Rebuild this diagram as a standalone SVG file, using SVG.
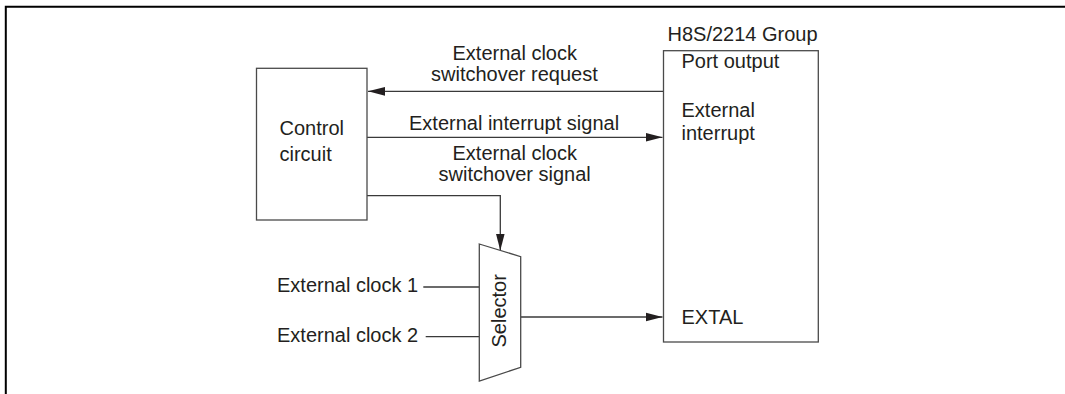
<svg xmlns="http://www.w3.org/2000/svg" width="1065" height="394" viewBox="0 0 1065 394">
<style>
text{font-family:"Liberation Sans",Arial,sans-serif;font-size:20px;fill:#231f20}
.b{fill:#fff;stroke:#4a4a4a;stroke-width:1.3}
.c{fill:none;stroke:#3a3a3a;stroke-width:1.3}
</style>
<defs><marker id="a" markerUnits="userSpaceOnUse" markerWidth="17" markerHeight="10" refX="17" refY="5" orient="auto"><path d="M0 .6L17 5L0 9.400z" fill="#231f20"/></marker></defs>
<rect width="1065" height="394" fill="#fff"/>
<path d="M5.800 394V6.700H1065" fill="none" stroke="#000" stroke-width="2"/>
<g id="connectors">
<path class="c" d="M663.500 91.300H368" marker-end="url(#a)"/>
<path class="c" d="M367 137.300H662.500" marker-end="url(#a)"/>
<path class="c" d="M367 195.700H500.300V250.500" marker-end="url(#a)"/>
<path class="c" d="M423.300 287H479.300"/>
<path class="c" d="M425.700 336.700H479.300"/>
<path class="c" d="M520.700 317H662.500" marker-end="url(#a)"/>
</g>
<g id="control"><rect class="b" x="256.500" y="68.300" width="110.500" height="151.700"/>
<text x="279.500" y="135">Control</text><text x="279.500" y="161.300">circuit</text></g>
<g id="selector"><path class="b" d="M479.300 244L520.700 256.700V367.300L479.300 381z"/>
<text transform="translate(505.500 347.500) rotate(-90)">Selector</text></g>
<g id="h8s"><rect class="b" x="663.500" y="50.700" width="154.800" height="291.300"/>
<text x="667.500" y="41.300">H8S/2214 Group</text>
<text x="681.500" y="68.300">Port output</text><text x="681.500" y="116.700">External</text><text x="681.500" y="139.500">interrupt</text><text x="681.500" y="324.300">EXTAL</text></g>
<g id="labels">
<text x="452.500" y="60">External clock</text><text x="431" y="81">switchover request</text>
<text x="409" y="130">External interrupt signal</text>
<text x="452.500" y="160">External clock</text><text x="438.500" y="181">switchover signal</text>
<text x="277" y="291.700">External clock 1</text><text x="277" y="342.300">External clock 2</text>
</g>
</svg>
